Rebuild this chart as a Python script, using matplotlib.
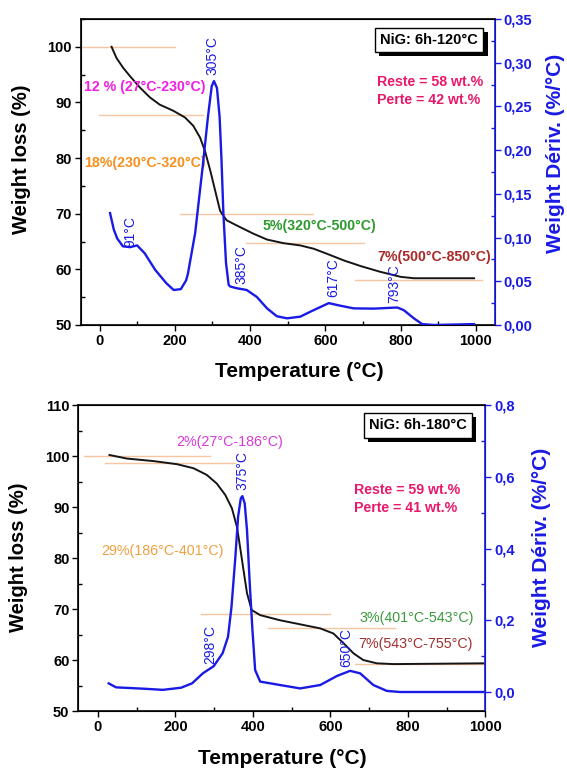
import matplotlib
matplotlib.use("Agg")
import matplotlib.pyplot as plt
import matplotlib.patheffects as pe
from matplotlib.ticker import MultipleLocator, FuncFormatter

plt.rcParams['font.family'] = ['Liberation Sans', 'DejaVu Sans']

# ---------------- NiG: 6h-120°C ----------------
tg1_T = [32, 45, 63, 80, 107, 134, 160, 196, 227, 249, 267, 280, 294, 307, 320, 325, 338, 373, 409,
         445, 489, 533, 569, 604, 649, 693, 746, 800, 835, 995]
tg1_W = [100.0, 98.0, 96.2, 94.8, 92.7, 90.9, 89.6, 88.5, 87.3, 85.8, 83.7, 81.3, 77.8, 74.2, 70.6,
         70.0, 68.8, 67.6, 66.4, 65.35, 64.7, 64.3, 63.7, 62.8, 61.6, 60.6, 59.55, 58.65, 58.4, 58.4]

dtg1_T = [28, 38, 47, 62, 81, 100, 120, 148, 177, 197, 216, 230, 235, 254, 274, 288, 298, 304, 312,
          319, 324, 329, 336, 343, 347, 365, 391, 418, 445, 471, 498, 533, 569, 609, 640, 675, 729,
          791, 808, 835, 857, 888, 995]
dtg1_D = [0.128, 0.109, 0.099, 0.090, 0.089, 0.091, 0.082, 0.063, 0.048, 0.040, 0.041, 0.051, 0.059,
          0.105, 0.181, 0.238, 0.273, 0.279, 0.271, 0.238, 0.189, 0.128, 0.071, 0.046, 0.044, 0.042,
          0.040, 0.032, 0.019, 0.010, 0.0076, 0.0095, 0.017, 0.025, 0.022, 0.019, 0.0187, 0.020,
          0.017, 0.0076, 0.001, 0.000, 0.001]

steps1_y = [100.0, 87.7, 70.0, 64.8, 58.1]
steps1_x0 = [-50, -1, 213, 389, 678]
steps1_x1 = [201, 274, 567, 702, 1015]

peaks1_T = [91, 305, 385, 617, 793]
peaks1_pos = [(81, 66.8), (301, 98.4), (378, 60.8), (620, 58.6), (784, 57.5)]

stages1 = ["12 % (27°C-230°C)", "18%(230°C-320°C)", "5%(320°C-500°C)", "7%(500°C-850°C)"]
stages1_pos = [(-42, 92.7), (-42, 79.2), (434, 67.7), (738, 62.2)]
reste1, perte1 = 58, 42

# ---------------- NiG: 6h-180°C ----------------
tg2_T = [30, 75, 144, 204, 247, 281, 307, 329, 346, 359, 367, 376, 385, 397, 419, 470, 522, 574,
         608, 634, 660, 685, 720, 763, 995]
tg2_W = [100.2, 99.5, 99.0, 98.4, 97.6, 96.3, 94.6, 92.35, 89.75, 86.1, 82.2, 77.6, 73.1, 69.8,
         68.8, 67.8, 67.0, 66.2, 65.2, 63.3, 61.3, 60.0, 59.35, 59.2, 59.35]

dtg2_T = [28, 47, 121, 168, 215, 243, 271, 299, 322, 336, 345, 355, 362, 369, 373, 379, 385, 392, 399,
          406, 419, 470, 522, 574, 617, 651, 677, 711, 746, 780, 995]
dtg2_D = [0.024, 0.013, 0.009, 0.006, 0.012, 0.024, 0.052, 0.072, 0.108, 0.154, 0.238, 0.377, 0.489,
          0.540, 0.546, 0.526, 0.451, 0.303, 0.173, 0.061, 0.029, 0.0195, 0.010, 0.0195, 0.0446,
          0.059, 0.052, 0.0195, 0.003, 0.000, 0.000]

steps2_y = [100.0, 98.7, 69.1, 66.2, 59.2]
steps2_x0 = [-37, 19, 266, 439, 663]
steps2_x1 = [289, 355, 598, 766, 1000]

peaks2_T = [298, 375, 650]
peaks2_pos = [(289, 63.1), (372, 97.1), (642, 62.5)]

stages2 = ["2%(27°C-186°C)", "29%(186°C-401°C)", "3%(401°C-543°C)", "7%(543°C-755°C)"]
stages2_pos = [(203, 102.8), (7.5, 81.4), (675, 68.3), (672, 63.1)]
reste2, perte2 = 59, 41

BLUE = '#1a1ae6'
STEP_COLOR = '#f6c6a2'


def comma(v, _):
    return f"{v:.2f}".replace('.', ',')


def comma1(v, _):
    return f"{v:.1f}".replace('.', ',')


def style_axes(ax, ax2):
    for a in (ax, ax2):
        a.tick_params(which='major', length=4.5, width=1.0, direction='out', labelsize=10.5, pad=2)
        a.tick_params(which='minor', length=3, width=1.0, direction='in')
    ax.xaxis.set_major_locator(MultipleLocator(200))
    ax.xaxis.set_minor_locator(MultipleLocator(100))
    ax.yaxis.set_major_locator(MultipleLocator(10))
    ax.yaxis.set_minor_locator(MultipleLocator(5))
    for lab in ax.get_xticklabels() + ax.get_yticklabels():
        lab.set_fontweight('bold')
    ax2.spines['right'].set_color(BLUE)
    ax2.spines['right'].set_linewidth(1.2)
    ax2.tick_params(axis='y', which='both', colors=BLUE)
    for lab in ax2.get_yticklabels():
        lab.set_fontweight('bold')
        lab.set_color(BLUE)
    for s in ('left', 'bottom', 'top'):
        ax.spines[s].set_linewidth(1.2)


def boxed_title(ax, x, y, text):
    t = ax.text(x, y, text, ha='center', va='center', fontsize=10.5, fontweight='bold', zorder=6,
                bbox=dict(boxstyle='square,pad=0.35', fc='white', ec='black', lw=1.0))
    t.get_bbox_patch().set_path_effects([
        pe.SimplePatchShadow(offset=(3, -3), shadow_rgbFace='black', alpha=1.0),
        pe.Normal()])


fig = plt.figure(figsize=(5.67, 7.71), dpi=100)

# ---------- upper panel ----------
ax = fig.add_axes([0.1423, 0.5785, 0.7304, 0.3969])
ax2 = ax.twinx()
ax.set_xlim(-50, 1050)
ax.set_ylim(50, 105)
ax2.set_ylim(0, 0.35)
ax2.yaxis.set_major_locator(MultipleLocator(0.05))
ax2.yaxis.set_minor_locator(MultipleLocator(0.025))
ax2.yaxis.set_major_formatter(FuncFormatter(comma))

for y, x0, x1 in zip(steps1_y, steps1_x0, steps1_x1):
    ax.plot([x0, x1], [y, y], color=STEP_COLOR, lw=1.0, zorder=1)
ax.plot(tg1_T, tg1_W, color='#151515', lw=1.4, zorder=3)
ax2.plot(dtg1_T, dtg1_D, color=BLUE, lw=1.7, zorder=3)

for T, (x, y) in zip(peaks1_T, peaks1_pos):
    ax.text(x, y, f"{T}°C", rotation=90, ha='center', va='center', color=BLUE, fontsize=10)

stage_colors1 = ['#ee1fe0', '#f7901e', '#2e9a2e', '#aa2a2a']
for s, (x, y), c in zip(stages1, stages1_pos, stage_colors1):
    ax.text(x, y, s, ha='left', va='center', color=c, fontsize=10.2, fontweight='bold')
ax.text(738, 93.7, f"Reste = {reste1} wt.%", ha='left', va='center', color='#e8196b',
        fontsize=10.2, fontweight='bold')
ax.text(738, 90.4, f"Perte = {perte1} wt.%", ha='left', va='center', color='#e8196b',
        fontsize=10.2, fontweight='bold')
boxed_title(ax, 876, 101.2, "NiG: 6h-120°C")

ax.set_xlabel("Temperature (°C)", fontsize=15, fontweight='bold')
ax.xaxis.set_label_coords(0.527, -0.122)
ax.set_ylabel("Weight loss (%)", fontsize=14.5, fontweight='bold')
ax.yaxis.set_label_coords(-0.12, 0.54)
ax2.set_ylabel("Weight Dériv. (%/°C)", fontsize=15, fontweight='bold', color=BLUE)
ax2.yaxis.set_label_coords(1.124, 0.562)
style_axes(ax, ax2)

# ---------- lower panel ----------
bx = fig.add_axes([0.1384, 0.0778, 0.7175, 0.3969])
bx2 = bx.twinx()
bx.set_xlim(-50, 1000)
bx.set_ylim(50, 110)
bx2.set_ylim(-0.053, 0.8)
bx2.yaxis.set_major_locator(MultipleLocator(0.2))
bx2.yaxis.set_minor_locator(MultipleLocator(0.1))
bx2.yaxis.set_major_formatter(FuncFormatter(comma1))

for y, x0, x1 in zip(steps2_y, steps2_x0, steps2_x1):
    bx.plot([x0, x1], [y, y], color=STEP_COLOR, lw=1.0, zorder=1)
bx.plot(tg2_T, tg2_W, color='#151515', lw=1.4, zorder=3)
bx2.plot(dtg2_T, dtg2_D, color=BLUE, lw=1.7, zorder=3)

for T, (x, y) in zip(peaks2_T, peaks2_pos):
    bx.text(x, y, f"{T}°C", rotation=90, ha='center', va='center', color=BLUE, fontsize=10)

stage_colors2 = ['#d63ad6', '#f0a040', '#3a9a3a', '#a03030']
for s, (x, y), c in zip(stages2, stages2_pos, stage_colors2):
    bx.text(x, y, s, ha='left', va='center', color=c, fontsize=10.3)
bx.text(660, 93.3, f"Reste = {reste2} wt.%", ha='left', va='center', color='#e8196b',
        fontsize=10.2, fontweight='bold')
bx.text(660, 89.75, f"Perte = {perte2} wt.%", ha='left', va='center', color='#e8196b',
        fontsize=10.2, fontweight='bold')
boxed_title(bx, 826, 106.0, "NiG: 6h-180°C")

bx.set_xlabel("Temperature (°C)", fontsize=15, fontweight='bold')
bx.xaxis.set_label_coords(0.502, -0.124)
bx.set_ylabel("Weight loss (%)", fontsize=14.5, fontweight='bold')
bx.yaxis.set_label_coords(-0.124, 0.503)
bx2.set_ylabel("Weight Dériv. (%/°C)", fontsize=15, fontweight='bold', color=BLUE)
bx2.yaxis.set_label_coords(1.115, 0.534)
style_axes(bx, bx2)

fig.savefig("out.png", dpi=100)
